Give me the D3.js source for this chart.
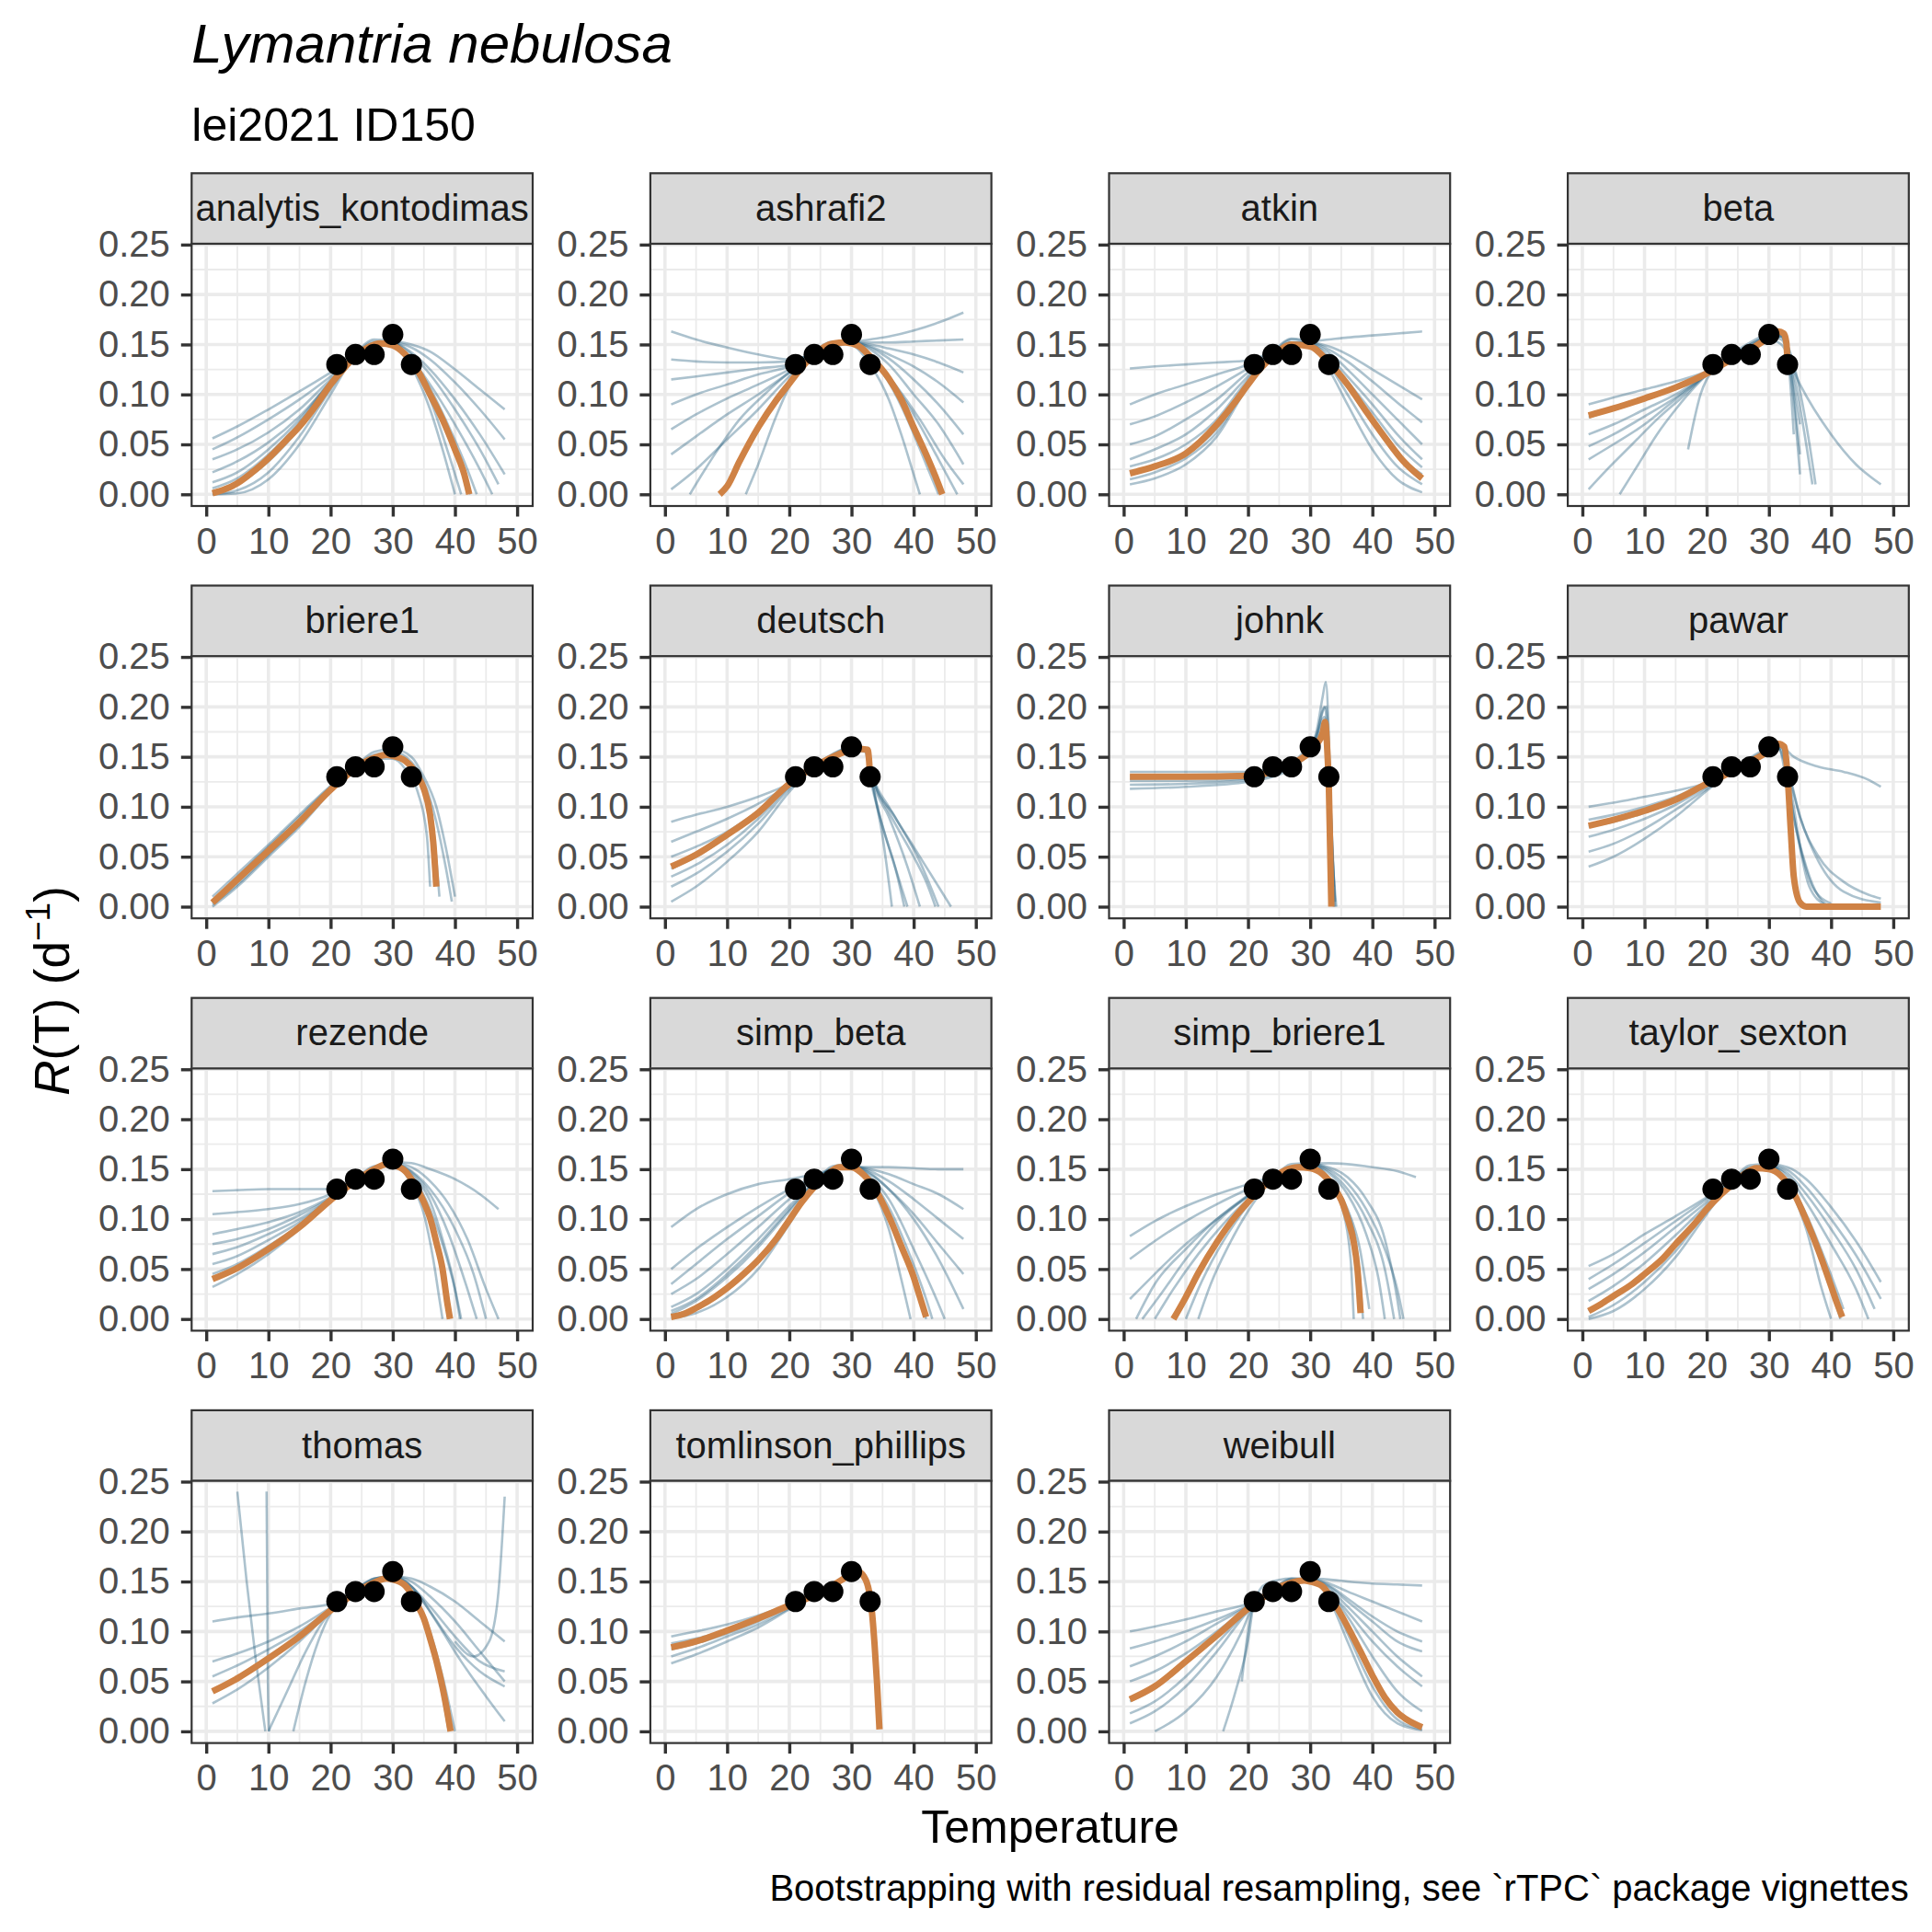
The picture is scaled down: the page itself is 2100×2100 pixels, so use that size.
<!DOCTYPE html>
<html>
<head>
<meta charset="utf-8">
<script src="https://cdn.jsdelivr.net/npm/d3@7"></script>
<style>
body { margin: 0; background: #fff; }
text { font-family: "Liberation Sans", Arial, sans-serif; }
</style>
</head>
<body>
<svg id="chart"></svg>
<script>
// facet names, in the order they are laid out
var models = ["analytis_kontodimas","ashrafi2","atkin","beta","briere1","deutsch","johnk","pawar",
              "rezende","simp_beta","simp_briere1","taylor_sexton","thomas","tomlinson_phillips","weibull"]

// observed development rates
var obsTemp = [21, 24, 27, 30, 33]
var obsRate = [0.13, 0.14, 0.14, 0.16, 0.13]

var xTicks = [0, 10, 20, 30, 40, 50]
var yTicks = [0, 0.05, 0.10, 0.15, 0.20, 0.25]

// fitted curves, [temperature, rate]
var fit_analytis = [[1,0.001],[3,0.005],[5,0.011],[8,0.025],[10,0.036],[13,0.055],[15,0.068],[18,0.092],[20,0.11],[22,0.125],[24,0.138],[26,0.147],[28,0.151],[30,0.149],[32,0.14],[34,0.124],[36,0.1],[38,0.075],[40,0.045],[41.5,0.02],[42.3,0]]
var fit_ashrafi2 = [[8.8,0],[10,0.008],[12,0.033],[15,0.067],[18,0.095],[20,0.111],[22,0.127],[24,0.14],[27,0.151],[29,0.152],[31,0.149],[33,0.138],[36,0.116],[38,0.095],[40,0.067],[42,0.04],[44,0.01],[44.6,0]]
var fit_atkin = [[1,0.021],[5,0.028],[10,0.041],[15,0.07],[18,0.093],[20,0.11],[22,0.126],[24,0.138],[27,0.15],[30,0.148],[33,0.132],[36,0.11],[39,0.083],[42,0.057],[45,0.033],[48,0.016]]
var fit_beta = [[1,0.079],[5,0.086],[10,0.096],[15,0.107],[20,0.121],[22,0.128],[24,0.135],[27,0.145],[30,0.157],[31.5,0.163],[32.4,0.161],[32.8,0.152],[33,0.13]]
var fit_briere1 = [[1,0.004],[5,0.027],[10,0.056],[15,0.085],[20,0.117],[22,0.128],[24,0.139],[27,0.149],[29,0.152],[30,0.151],[32,0.146],[33,0.14],[34,0.131],[35,0.118],[36,0.092],[36.5,0.065],[37,0.02]]
var fit_deutsch = [[1,0.04],[5,0.052],[10,0.072],[15,0.094],[20,0.123],[22,0.132],[24,0.14],[27,0.15],[30,0.157],[31,0.158],[32.6,0.157],[33,0.13]]
var fit_johnk = [[1,0.13],[10,0.13],[20,0.131],[22,0.132],[24,0.136],[26,0.14],[28,0.146],[30,0.155],[31,0.162],[32,0.174],[32.4,0.185],[32.8,0.15],[33,0.12],[33.2,0.06],[33.4,0]]
var fit_pawar = [[1,0.081],[5,0.087],[10,0.096],[15,0.107],[20,0.123],[22,0.129],[24,0.135],[27,0.145],[30,0.156],[31.5,0.163],[32.5,0.16],[33,0.131],[33.5,0.078],[34,0.03],[35,0.004],[36,0],[48,0]]
var fit_rezende = [[1,0.04],[5,0.051],[10,0.07],[15,0.092],[20,0.119],[22,0.129],[24,0.138],[27,0.15],[29,0.155],[30,0.154],[32,0.148],[33,0.14],[35,0.117],[36,0.101],[37,0.077],[38,0.05],[38.8,0.015],[39.2,0]]
var fit_simp_beta = [[1,0.002],[3,0.005],[5,0.011],[8,0.022],[10,0.031],[13,0.047],[15,0.059],[18,0.081],[20,0.099],[22,0.117],[24,0.132],[26,0.144],[28,0.152],[30,0.152],[32,0.144],[34,0.128],[36,0.103],[38,0.073],[40,0.042],[41,0.022],[42,0.002]]
var fit_simp_briere1 = [[8,0],[10,0.022],[12,0.046],[15,0.077],[18,0.103],[20,0.117],[22,0.13],[24,0.141],[26,0.149],[28,0.152],[30,0.151],[32,0.145],[34,0.13],[35,0.119],[36,0.101],[37,0.077],[37.6,0.05],[38.1,0.006]]
var fit_taylor_sexton = [[1,0.008],[3,0.015],[5,0.023],[8,0.035],[10,0.045],[13,0.061],[15,0.075],[18,0.095],[20,0.11],[22,0.123],[24,0.134],[26,0.145],[28,0.151],[30,0.15],[32,0.143],[34,0.126],[36,0.099],[38,0.068],[40,0.033],[41,0.015],[41.8,0.002]]
var fit_thomas = [[1,0.04],[5,0.053],[10,0.073],[15,0.095],[20,0.121],[22,0.13],[24,0.139],[27,0.149],[29,0.153],[30,0.152],[32,0.146],[34,0.126],[35,0.113],[36,0.093],[37,0.071],[38,0.044],[38.8,0.018],[39.3,0]]
var fit_tomlinson = [[1,0.084],[5,0.09],[10,0.101],[15,0.113],[20,0.126],[22,0.131],[24,0.136],[27,0.146],[29,0.154],[30,0.158],[31,0.16],[32,0.155],[32.8,0.141],[33.3,0.119],[33.7,0.088],[34.1,0.049],[34.5,0.002]]
var fit_weibull = [[1,0.032],[5,0.045],[10,0.07],[15,0.096],[20,0.123],[22,0.132],[24,0.141],[27,0.149],[29,0.151],[30,0.15],[32,0.145],[34,0.127],[36,0.105],[38,0.081],[40,0.056],[42,0.034],[44,0.019],[46,0.01],[48,0.004]]

// a sample of the bootstrapped curves, [temperature, rate]
var boot_analytis = [
  [[1,0.056],[5,0.068],[10,0.085],[15,0.103],[20,0.122],[24,0.138],[27,0.148],[30,0.153],[33,0.15],[36,0.143],[40,0.125],[44,0.105],[48,0.085]],
  [[1,0.045],[5,0.057],[10,0.075],[15,0.095],[20,0.118],[24,0.137],[27,0.148],[30,0.152],[33,0.147],[36,0.135],[40,0.112],[44,0.085],[48,0.055]],
  [[1,0.035],[5,0.045],[10,0.062],[15,0.085],[20,0.115],[24,0.136],[27,0.148],[30,0.152],[33,0.142],[36,0.125],[40,0.095],[44,0.06],[48,0.02]],
  [[1,0.012],[5,0.022],[10,0.045],[15,0.075],[20,0.113],[24,0.138],[27,0.15],[30,0.15],[33,0.135],[36,0.11],[40,0.07],[44,0.025],[46,0]],
  [[1,0.006],[5,0.016],[10,0.04],[15,0.072],[20,0.112],[24,0.138],[27,0.151],[30,0.151],[33,0.134],[36,0.106],[39,0.068],[42,0.025],[43.5,0]],
  [[1,0.002],[5,0.01],[10,0.033],[15,0.066],[20,0.108],[24,0.138],[27,0.151],[30,0.15],[33,0.13],[36,0.1],[39,0.06],[42,0.01],[42.5,0]],
  [[1,0],[5,0.001],[10,0.015],[15,0.05],[20,0.1],[24,0.14],[27,0.155],[30,0.153],[33,0.128],[36,0.085],[38,0.045],[40,0]],
  [[1,0],[5,0.004],[10,0.022],[15,0.058],[20,0.105],[24,0.139],[27,0.153],[30,0.151],[33,0.13],[36,0.095],[39,0.04],[41,0]],
  [[1,0.022],[5,0.033],[10,0.052],[15,0.078],[20,0.112],[24,0.137],[27,0.149],[30,0.151],[33,0.14],[36,0.12],[40,0.085],[44,0.045],[47,0.01]]
]
var boot_ashrafi2 = [
  [[1,0.163],[5,0.155],[10,0.147],[15,0.14],[20,0.135],[24,0.14],[27,0.147],[30,0.152],[33,0.155],[36,0.158],[40,0.164],[44,0.172],[48,0.182]],
  [[1,0.135],[5,0.133],[10,0.132],[15,0.132],[20,0.133],[24,0.142],[27,0.15],[30,0.152],[33,0.152],[36,0.152],[40,0.153],[44,0.154],[48,0.155]],
  [[1,0.115],[5,0.118],[10,0.122],[15,0.126],[20,0.13],[24,0.141],[27,0.15],[30,0.152],[33,0.15],[36,0.146],[40,0.14],[44,0.132],[48,0.122]],
  [[1,0.09],[5,0.1],[10,0.11],[15,0.12],[20,0.128],[24,0.14],[27,0.149],[30,0.152],[33,0.148],[36,0.14],[40,0.128],[44,0.112],[48,0.092]],
  [[1,0.065],[5,0.08],[10,0.096],[15,0.11],[20,0.125],[24,0.14],[27,0.15],[30,0.152],[33,0.147],[36,0.136],[40,0.115],[44,0.09],[48,0.06]],
  [[1,0.04],[5,0.058],[10,0.08],[15,0.1],[20,0.122],[24,0.14],[27,0.15],[30,0.152],[33,0.145],[36,0.13],[40,0.1],[44,0.07],[48,0.03]],
  [[1,0.005],[5,0.025],[10,0.055],[15,0.085],[20,0.118],[24,0.14],[27,0.151],[30,0.151],[33,0.14],[36,0.118],[40,0.08],[44,0.035],[47,0]],
  [[9,0],[12,0.03],[15,0.068],[18,0.097],[21,0.12],[24,0.139],[27,0.151],[30,0.152],[33,0.137],[36,0.112],[39,0.075],[42,0.03],[44,0]],
  [[13,0],[15,0.03],[18,0.08],[21,0.12],[24,0.142],[27,0.153],[30,0.15],[33,0.13],[36,0.095],[38,0.06],[40,0.02],[41,0]],
  [[4,0],[8,0.04],[12,0.075],[16,0.1],[20,0.122],[24,0.14],[27,0.15],[30,0.151],[33,0.14],[37,0.11],[41,0.075],[45,0.035],[48,0.01]]
]
var boot_atkin = [
  [[1,0.126],[5,0.128],[10,0.13],[15,0.132],[20,0.134],[24,0.143],[27,0.15],[30,0.153],[33,0.155],[36,0.157],[40,0.159],[44,0.161],[48,0.163]],
  [[1,0.09],[5,0.1],[10,0.11],[15,0.12],[20,0.13],[24,0.142],[27,0.15],[30,0.152],[33,0.148],[36,0.14],[40,0.125],[44,0.11],[48,0.095]],
  [[1,0.07],[5,0.078],[10,0.092],[15,0.108],[20,0.126],[24,0.141],[27,0.15],[30,0.152],[33,0.145],[36,0.133],[40,0.113],[44,0.092],[48,0.072]],
  [[1,0.05],[5,0.058],[10,0.075],[15,0.095],[20,0.122],[24,0.14],[27,0.151],[30,0.151],[33,0.142],[36,0.125],[40,0.1],[44,0.075],[48,0.05]],
  [[1,0.028],[5,0.035],[10,0.05],[15,0.075],[20,0.115],[24,0.14],[27,0.152],[30,0.15],[33,0.135],[36,0.113],[40,0.082],[44,0.05],[48,0.027]],
  [[1,0.022],[5,0.028],[10,0.04],[15,0.066],[20,0.11],[24,0.14],[27,0.152],[30,0.148],[33,0.132],[36,0.108],[40,0.075],[44,0.04],[48,0.02]],
  [[1,0.01],[5,0.016],[10,0.03],[15,0.058],[20,0.108],[24,0.14],[27,0.155],[30,0.15],[33,0.125],[36,0.09],[40,0.045],[44,0.015],[48,0.002]],
  [[1,0.035],[5,0.045],[10,0.06],[15,0.085],[20,0.118],[24,0.141],[27,0.152],[30,0.151],[33,0.138],[36,0.118],[40,0.09],[44,0.06],[48,0.035]],
  [[1,0.015],[5,0.022],[10,0.036],[15,0.062],[20,0.11],[24,0.142],[27,0.156],[30,0.152],[33,0.13],[36,0.1],[40,0.06],[44,0.028],[48,0.01]]
]
var boot_beta = [
  [[1,0.09],[5,0.097],[10,0.105],[15,0.113],[20,0.123],[24,0.135],[27,0.145],[30,0.156],[32,0.16],[33,0.15],[34,0.11],[35,0.07]],
  [[1,0.077],[5,0.085],[10,0.096],[15,0.108],[20,0.122],[24,0.136],[27,0.146],[30,0.157],[32,0.162],[33,0.15],[34,0.1],[35,0.04]],
  [[1,0.06],[5,0.07],[10,0.085],[15,0.1],[20,0.12],[24,0.137],[27,0.148],[30,0.158],[32,0.158],[34,0.13],[36,0.07],[37.5,0.01]],
  [[1,0.048],[5,0.06],[10,0.078],[15,0.097],[20,0.12],[24,0.137],[27,0.148],[30,0.155],[32,0.15],[35,0.11],[40,0.06],[44,0.03],[48,0.01]],
  [[1,0.005],[4,0.025],[8,0.05],[12,0.075],[16,0.097],[20,0.12],[24,0.138],[27,0.15],[30,0.158],[32,0.155],[34,0.12],[36,0.05],[37,0.01]],
  [[6,0],[9,0.03],[12,0.06],[15,0.085],[18,0.107],[21,0.125],[24,0.138],[27,0.15],[30,0.158],[32,0.16],[33,0.14],[34,0.06]],
  [[17,0.045],[18,0.075],[19,0.1],[20,0.115],[21,0.124],[24,0.14],[27,0.152],[30,0.16],[32,0.158],[33.5,0.12],[35,0.02]],
  [[1,0.035],[5,0.05],[10,0.07],[14,0.09],[18,0.11],[21,0.125],[24,0.137],[27,0.148],[30,0.157],[32,0.158],[33.5,0.12]]
]
var boot_briere1 = [
  [[1,0.002],[5,0.022],[10,0.052],[15,0.082],[20,0.117],[24,0.14],[27,0.152],[30,0.155],[33,0.145],[35,0.125],[37,0.085],[38.5,0.04],[39.5,0.005]],
  [[1,0.006],[5,0.03],[10,0.06],[15,0.09],[20,0.12],[24,0.14],[27,0.15],[30,0.15],[33,0.138],[35,0.115],[36,0.09],[36.8,0.03]],
  [[1,0],[5,0.02],[10,0.05],[15,0.08],[20,0.115],[24,0.14],[27,0.155],[30,0.158],[33,0.15],[35,0.13],[37,0.1],[38.5,0.06],[40,0.01]],
  [[1,0.01],[5,0.033],[10,0.062],[15,0.092],[20,0.121],[24,0.14],[27,0.148],[30,0.148],[32,0.138],[34,0.115],[35.5,0.07],[36,0.02]],
  [[1,0.004],[5,0.026],[10,0.056],[15,0.086],[20,0.118],[24,0.139],[27,0.15],[30,0.152],[33,0.142],[35,0.122],[36.5,0.08],[37.5,0.01]]
]
var boot_deutsch = [
  [[1,0.085],[5,0.092],[10,0.1],[15,0.11],[20,0.123],[24,0.138],[27,0.148],[30,0.156],[32.5,0.155],[33.5,0.13],[36,0.1],[40,0.06],[44,0.02],[46,0]],
  [[1,0.065],[5,0.075],[10,0.088],[15,0.103],[20,0.122],[24,0.139],[27,0.15],[30,0.157],[32.5,0.156],[33.5,0.128],[36,0.095],[40,0.05],[42,0.025],[43.5,0]],
  [[1,0.05],[5,0.06],[10,0.075],[15,0.096],[20,0.122],[24,0.139],[27,0.15],[30,0.157],[32.5,0.155],[33.5,0.125],[36,0.09],[39,0.04],[41,0]],
  [[1,0.038],[5,0.05],[10,0.07],[15,0.093],[20,0.122],[24,0.14],[27,0.15],[30,0.157],[32.5,0.158],[33.5,0.12],[35,0.07],[36.5,0]],
  [[1,0.02],[5,0.033],[10,0.055],[15,0.083],[20,0.118],[24,0.14],[27,0.152],[30,0.16],[32.5,0.157],[33.5,0.12],[35,0.08],[37,0.04],[38.5,0]],
  [[1,0.005],[5,0.02],[10,0.045],[15,0.075],[20,0.115],[24,0.14],[27,0.153],[30,0.16],[32,0.158],[33.5,0.115],[36,0.06],[38,0.02],[39,0]],
  [[1,0.03],[5,0.042],[10,0.062],[15,0.088],[20,0.12],[24,0.14],[27,0.151],[30,0.158],[32.5,0.156],[33.5,0.128],[37,0.09],[41,0.045],[44,0]]
]
var boot_johnk = [
  [[1,0.135],[10,0.135],[20,0.135],[24,0.138],[27,0.142],[29,0.15],[31,0.175],[32,0.21],[32.5,0.225],[33,0.17],[33.5,0.05],[33.8,0]],
  [[1,0.126],[10,0.126],[20,0.128],[24,0.133],[27,0.14],[29,0.15],[31,0.168],[32,0.195],[32.6,0.2],[33.2,0.12],[33.8,0.02]],
  [[1,0.118],[10,0.12],[20,0.125],[24,0.13],[27,0.138],[29,0.148],[31,0.163],[32.2,0.18],[32.8,0.17],[33.3,0.1],[34,0]],
  [[1,0.131],[10,0.131],[20,0.132],[24,0.136],[27,0.142],[29,0.152],[31,0.17],[32.3,0.19],[32.9,0.15],[33.5,0.03]],
  [[1,0.128],[10,0.129],[20,0.13],[24,0.135],[27,0.143],[29,0.155],[31,0.172],[32.3,0.2],[33,0.14],[33.6,0.05],[34.2,0]],
  [[1,0.122],[10,0.123],[20,0.127],[24,0.132],[27,0.14],[29,0.15],[31,0.165],[32,0.175],[32.8,0.16],[33.5,0.06],[34,0.005]]
]
var boot_pawar = [
  [[1,0.1],[5,0.104],[10,0.11],[15,0.116],[20,0.124],[24,0.134],[27,0.144],[30,0.155],[32,0.16],[34,0.15],[38,0.14],[42,0.135],[46,0.127],[48,0.12]],
  [[1,0.087],[5,0.092],[10,0.1],[15,0.11],[20,0.124],[24,0.135],[27,0.145],[30,0.156],[32,0.16],[33,0.14],[35,0.09],[38,0.05],[42,0.025],[46,0.012],[48,0.008]],
  [[1,0.07],[5,0.077],[10,0.088],[15,0.102],[20,0.12],[24,0.135],[27,0.146],[30,0.157],[32,0.158],[33,0.13],[34,0.09],[36,0.04],[38,0.01],[40,0]],
  [[1,0.055],[5,0.063],[10,0.078],[15,0.097],[20,0.118],[24,0.135],[27,0.148],[30,0.157],[31.5,0.16],[33,0.12],[35,0.06],[37,0.02],[40,0.003]],
  [[1,0.04],[5,0.05],[10,0.068],[15,0.09],[20,0.116],[24,0.136],[27,0.149],[30,0.158],[31.5,0.158],[33,0.135],[35,0.09],[38,0.045],[42,0.015],[48,0.004]],
  [[1,0.08],[5,0.085],[10,0.094],[15,0.106],[20,0.122],[24,0.135],[27,0.145],[30,0.156],[32,0.16],[33,0.135],[34,0.1],[35,0.06],[36.5,0.02],[39,0.002]]
]
var boot_rezende = [
  [[1,0.128],[5,0.129],[10,0.13],[15,0.13],[20,0.13],[24,0.14],[27,0.15],[30,0.157],[33,0.156],[36,0.15],[40,0.14],[44,0.125],[47,0.11]],
  [[1,0.105],[5,0.107],[10,0.11],[15,0.115],[20,0.125],[24,0.139],[27,0.15],[30,0.156],[33,0.152],[36,0.138],[39,0.115],[42,0.08],[45,0.03],[47,0]],
  [[1,0.085],[5,0.09],[10,0.097],[15,0.107],[20,0.122],[24,0.138],[27,0.15],[30,0.155],[33,0.147],[36,0.125],[39,0.085],[42,0.03],[43.5,0]],
  [[1,0.065],[5,0.072],[10,0.085],[15,0.1],[20,0.12],[24,0.138],[27,0.15],[30,0.155],[33,0.143],[36,0.11],[38,0.075],[40,0.03],[41,0]],
  [[1,0.055],[5,0.063],[10,0.079],[15,0.097],[20,0.12],[24,0.138],[27,0.15],[30,0.155],[33,0.145],[36,0.118],[38,0.08],[40,0.03],[40.8,0]],
  [[1,0.045],[5,0.055],[10,0.073],[15,0.094],[20,0.119],[24,0.138],[27,0.151],[30,0.155],[33,0.14],[35,0.117],[37,0.075],[38.5,0.03],[39,0]],
  [[1,0.032],[5,0.045],[10,0.065],[15,0.09],[20,0.118],[24,0.14],[27,0.153],[30,0.155],[33,0.135],[35,0.105],[36.5,0.06],[37.5,0.02],[38,0]],
  [[1,0.075],[5,0.08],[10,0.09],[15,0.104],[20,0.121],[24,0.138],[27,0.15],[30,0.156],[33,0.148],[36,0.13],[40,0.09],[43,0.045],[45,0]]
]
var boot_simp_beta = [
  [[1,0.092],[5,0.11],[10,0.125],[15,0.135],[20,0.14],[24,0.145],[27,0.15],[30,0.152],[33,0.152],[36,0.152],[40,0.151],[44,0.15],[48,0.15]],
  [[1,0.05],[5,0.07],[10,0.092],[15,0.112],[20,0.13],[24,0.142],[27,0.15],[30,0.153],[33,0.15],[36,0.145],[40,0.135],[44,0.125],[48,0.11]],
  [[1,0.035],[5,0.055],[10,0.08],[15,0.103],[20,0.126],[24,0.141],[27,0.15],[30,0.153],[33,0.148],[36,0.138],[40,0.12],[44,0.1],[48,0.08]],
  [[1,0.025],[5,0.04],[10,0.065],[15,0.092],[20,0.12],[24,0.139],[27,0.15],[30,0.152],[33,0.145],[36,0.13],[40,0.105],[44,0.075],[48,0.045]],
  [[1,0.008],[5,0.02],[10,0.045],[15,0.075],[20,0.11],[24,0.136],[27,0.15],[30,0.153],[33,0.14],[36,0.112],[39,0.07],[42,0.02],[43,0]],
  [[1,0.003],[5,0.012],[10,0.032],[15,0.06],[20,0.1],[24,0.133],[27,0.15],[30,0.153],[33,0.138],[36,0.105],[39,0.06],[41,0.025],[42,0]],
  [[1,0.001],[5,0.006],[10,0.022],[15,0.05],[20,0.095],[24,0.133],[27,0.153],[30,0.155],[33,0.135],[36,0.09],[38,0.04],[39.5,0]],
  [[1,0.005],[5,0.018],[10,0.042],[15,0.072],[20,0.108],[24,0.136],[27,0.151],[30,0.153],[33,0.142],[36,0.12],[40,0.07],[44,0.015],[45,0]],
  [[1,0.012],[5,0.025],[10,0.05],[15,0.08],[20,0.113],[24,0.137],[27,0.15],[30,0.153],[33,0.146],[36,0.13],[40,0.1],[44,0.06],[48,0.01]]
]
var boot_simp_briere1 = [
  [[1,0.083],[5,0.098],[10,0.113],[15,0.125],[20,0.135],[24,0.143],[27,0.15],[30,0.155],[33,0.156],[36,0.155],[40,0.152],[44,0.148],[47,0.142]],
  [[1,0.06],[5,0.078],[10,0.098],[15,0.115],[20,0.13],[24,0.141],[27,0.15],[30,0.155],[33,0.152],[36,0.142],[39,0.12],[42,0.08],[44,0.02],[44.5,0]],
  [[1,0.02],[5,0.045],[10,0.075],[15,0.1],[20,0.123],[24,0.14],[27,0.15],[30,0.154],[33,0.146],[36,0.125],[39,0.085],[41,0.04],[42,0]],
  [[2,0],[5,0.035],[10,0.07],[15,0.1],[20,0.124],[24,0.141],[27,0.151],[30,0.155],[33,0.15],[36,0.136],[39,0.11],[42,0.07],[44,0.03],[45,0]],
  [[5,0],[8,0.03],[12,0.065],[16,0.095],[20,0.12],[24,0.14],[27,0.151],[30,0.153],[33,0.14],[36,0.11],[38,0.07],[39.5,0.01]],
  [[8,0],[10,0.022],[13,0.058],[16,0.088],[20,0.117],[24,0.141],[27,0.151],[30,0.151],[33,0.138],[35.5,0.11],[37,0.075],[38,0.01]],
  [[10,0],[12,0.03],[15,0.067],[18,0.097],[21,0.122],[24,0.14],[27,0.152],[30,0.153],[33,0.14],[35.5,0.115],[37.5,0.07],[38.5,0]],
  [[12,0],[14,0.035],[17,0.075],[20,0.108],[24,0.14],[27,0.155],[30,0.156],[33,0.14],[35,0.115],[36.5,0.06],[37,0]],
  [[3,0],[6,0.025],[10,0.06],[15,0.097],[20,0.123],[24,0.141],[27,0.152],[30,0.155],[33,0.148],[36,0.13],[39,0.1],[42,0.05],[43.5,0]]
]
var boot_taylor_sexton = [
  [[1,0.053],[5,0.065],[10,0.085],[15,0.103],[20,0.122],[24,0.138],[27,0.148],[30,0.155],[33,0.152],[36,0.14],[40,0.112],[44,0.078],[48,0.037]],
  [[1,0.04],[5,0.055],[10,0.076],[15,0.098],[20,0.12],[24,0.137],[27,0.148],[30,0.154],[33,0.149],[36,0.132],[40,0.1],[44,0.064],[48,0.02]],
  [[1,0.03],[5,0.045],[10,0.067],[15,0.092],[20,0.117],[24,0.136],[27,0.148],[30,0.153],[33,0.146],[36,0.125],[40,0.09],[44,0.05],[47,0.01]],
  [[1,0.008],[5,0.022],[10,0.045],[15,0.075],[20,0.11],[24,0.135],[27,0.15],[30,0.151],[33,0.135],[36,0.1],[39,0.05],[41.5,0]],
  [[1,0],[5,0.008],[10,0.03],[15,0.062],[20,0.105],[24,0.137],[27,0.154],[30,0.155],[33,0.135],[36,0.09],[38.5,0.03],[40,0]],
  [[1,0.002],[5,0.014],[10,0.037],[15,0.068],[20,0.108],[24,0.136],[27,0.152],[30,0.153],[33,0.138],[36,0.105],[39,0.06],[42,0.01]],
  [[1,0.018],[5,0.033],[10,0.056],[15,0.084],[20,0.114],[24,0.136],[27,0.149],[30,0.153],[33,0.143],[36,0.117],[40,0.075],[44,0.03],[46,0]]
]
var boot_thomas = [
  [[1,0.11],[5,0.114],[10,0.118],[15,0.123],[20,0.128],[24,0.14],[27,0.15],[30,0.155],[33,0.153],[36,0.145],[40,0.13],[44,0.11],[48,0.09]],
  [[1,0.07],[5,0.078],[10,0.09],[15,0.105],[20,0.124],[24,0.139],[27,0.15],[30,0.155],[33,0.15],[36,0.135],[40,0.11],[44,0.08],[48,0.05]],
  [[1,0.055],[5,0.066],[10,0.082],[15,0.1],[20,0.122],[24,0.139],[27,0.15],[30,0.154],[33,0.145],[36,0.125],[40,0.095],[44,0.07],[48,0.06]],
  [[1,0.04],[5,0.053],[10,0.073],[15,0.095],[20,0.121],[24,0.139],[27,0.15],[30,0.153],[33,0.137],[35,0.113],[37,0.07],[39,0]],
  [[1,0.028],[5,0.042],[10,0.064],[15,0.09],[20,0.12],[24,0.14],[27,0.153],[30,0.155],[33,0.14],[36,0.1],[38,0.055],[40,0]],
  [[10,0],[13,0.04],[16,0.08],[19,0.112],[21,0.127],[24,0.142],[27,0.153],[30,0.155],[33,0.145],[36,0.12],[40,0.085],[44,0.06],[48,0.045]],
  [[14,0],[16,0.05],[18,0.09],[20,0.118],[22,0.133],[25,0.146],[28,0.154],[31,0.153],[34,0.138],[37,0.11],[41,0.07],[45,0.035],[48,0.01]],
  [[5,0.24],[6.5,0.15],[8,0.07],[9.5,0]],
  [[9.7,0.24],[9.8,0.15],[9.9,0.06],[10.1,0]],
  [[40,0.09],[43,0.075],[45.5,0.09],[47,0.14],[48,0.235]]
]
var boot_tomlinson = [
  [[1,0.095],[5,0.1],[10,0.107],[15,0.116],[20,0.127],[24,0.136],[27,0.146],[30,0.157],[31.5,0.158],[33,0.13],[34.3,0.03]],
  [[1,0.075],[5,0.083],[10,0.095],[15,0.107],[20,0.123],[24,0.136],[27,0.147],[30,0.158],[31.5,0.16],[33,0.13],[34.3,0.03]],
  [[1,0.068],[5,0.077],[10,0.09],[15,0.104],[20,0.122],[24,0.136],[27,0.147],[30,0.158],[31.5,0.159],[33,0.132],[34.3,0.04]],
  [[1,0.088],[5,0.093],[10,0.101],[15,0.112],[20,0.125],[24,0.136],[27,0.146],[30,0.157],[31.5,0.159],[33,0.13],[34.4,0.02]],
  [[1,0.082],[5,0.088],[10,0.098],[15,0.11],[20,0.125],[24,0.136],[27,0.146],[30,0.157],[31.5,0.159],[33,0.13],[34.4,0.01]]
]
var boot_weibull = [
  [[1,0.1],[5,0.105],[10,0.112],[15,0.12],[20,0.128],[24,0.14],[27,0.15],[30,0.153],[33,0.152],[36,0.15],[40,0.148],[44,0.147],[48,0.146]],
  [[1,0.083],[5,0.09],[10,0.1],[15,0.112],[20,0.126],[24,0.14],[27,0.15],[30,0.153],[33,0.148],[36,0.14],[40,0.13],[44,0.12],[48,0.11]],
  [[1,0.065],[5,0.075],[10,0.09],[15,0.108],[20,0.125],[24,0.14],[27,0.15],[30,0.152],[33,0.146],[36,0.133],[40,0.115],[44,0.1],[48,0.09]],
  [[1,0.05],[5,0.06],[10,0.078],[15,0.1],[20,0.124],[24,0.14],[27,0.15],[30,0.152],[33,0.143],[36,0.125],[40,0.1],[44,0.075],[48,0.055]],
  [[1,0.03],[5,0.043],[10,0.068],[15,0.095],[20,0.122],[24,0.141],[27,0.15],[30,0.151],[33,0.137],[36,0.105],[40,0.055],[44,0.02],[48,0.004]],
  [[1,0.018],[5,0.03],[10,0.055],[15,0.088],[20,0.121],[24,0.141],[27,0.151],[30,0.152],[33,0.137],[36,0.098],[40,0.045],[44,0.012],[48,0.002]],
  [[1,0.008],[5,0.02],[10,0.045],[15,0.08],[20,0.12],[24,0.142],[27,0.153],[30,0.152],[33,0.133],[36,0.09],[40,0.035],[44,0.008],[48,0.001]],
  [[5,0],[10,0.02],[15,0.055],[19,0.1],[21,0.128],[24,0.142],[27,0.152],[30,0.152],[33,0.14],[36,0.115],[40,0.075],[44,0.04],[48,0.02]],
  [[16,0],[18,0.04],[20,0.09],[21,0.13],[23,0.148],[27,0.153],[30,0.152],[33,0.14],[36,0.12],[40,0.09],[44,0.065],[48,0.045]],
  [[19,0.05],[20,0.1],[21,0.13],[24,0.141],[27,0.15],[30,0.152],[33,0.145],[36,0.13],[40,0.11],[44,0.09],[48,0.08]]
]

// lookup tables built from the arrays above
var fits = {
  analytis_kontodimas: fit_analytis, ashrafi2: fit_ashrafi2, atkin: fit_atkin, beta: fit_beta,
  briere1: fit_briere1, deutsch: fit_deutsch, johnk: fit_johnk, pawar: fit_pawar,
  rezende: fit_rezende, simp_beta: fit_simp_beta, simp_briere1: fit_simp_briere1,
  taylor_sexton: fit_taylor_sexton, thomas: fit_thomas, tomlinson_phillips: fit_tomlinson, weibull: fit_weibull
}
var boots = {
  analytis_kontodimas: boot_analytis, ashrafi2: boot_ashrafi2, atkin: boot_atkin, beta: boot_beta,
  briere1: boot_briere1, deutsch: boot_deutsch, johnk: boot_johnk, pawar: boot_pawar,
  rezende: boot_rezende, simp_beta: boot_simp_beta, simp_briere1: boot_simp_briere1,
  taylor_sexton: boot_taylor_sexton, thomas: boot_thomas, tomlinson_phillips: boot_tomlinson, weibull: boot_weibull
}

var screen = {width:2100, height:2100}
var panel = {width:370.7, height:285, strip:76.7, left:208.3, top:188.3, colStep:498.6, rowStep:448.2}

var svg = d3.select("#chart")
  .attr("width", screen.width)
  .attr("height", screen.height)

svg.append("rect")
  .attr("width", screen.width)
  .attr("height", screen.height)
  .attr("fill", "white")

var xScale = d3.scaleLinear().domain([-2.35, 52.5]).range([0, panel.width])
var yScale = d3.scaleLinear().domain([-0.0117, 0.2508]).range([panel.height, 0])

var lineGenerator = d3.line()
  .x(function(d){return xScale(d[0])})
  .y(function(d){return yScale(d[1])})
  .curve(d3.curveMonotoneX)

var defs = svg.append("defs")

var drawPanel = function(name, i)
{
  var col = i % 4, row = Math.floor(i / 4)
  var x0 = panel.left + col * panel.colStep
  var stripTop = panel.top + row * panel.rowStep
  var y0 = stripTop + panel.strip

  // strip
  svg.append("rect")
    .attr("x", x0).attr("y", stripTop)
    .attr("width", panel.width).attr("height", panel.strip)
    .attr("fill", "#d9d9d9").attr("stroke", "#333333").attr("stroke-width", 2.2)
  svg.append("text")
    .attr("x", x0 + panel.width / 2).attr("y", stripTop + 51.7)
    .attr("text-anchor", "middle")
    .attr("font-size", 40).attr("fill", "#1a1a1a")
    .text(name)

  var g = svg.append("g").attr("transform", "translate(" + x0 + "," + y0 + ")")

  g.append("rect").attr("width", panel.width).attr("height", panel.height).attr("fill", "white")

  // grid
  var xMinor = [5, 15, 25, 35, 45]
  var yMinor = [0.025, 0.075, 0.125, 0.175, 0.225]
  g.selectAll(".xminor").data(xMinor).enter().append("line")
    .attr("x1", xScale).attr("x2", xScale).attr("y1", 0).attr("y2", panel.height)
    .attr("stroke", "#ebebeb").attr("stroke-width", 1.8)
  g.selectAll(".yminor").data(yMinor).enter().append("line")
    .attr("y1", yScale).attr("y2", yScale).attr("x1", 0).attr("x2", panel.width)
    .attr("stroke", "#ebebeb").attr("stroke-width", 1.8)
  g.selectAll(".xmajor").data(xTicks).enter().append("line")
    .attr("x1", xScale).attr("x2", xScale).attr("y1", 0).attr("y2", panel.height)
    .attr("stroke", "#ebebeb").attr("stroke-width", 3.6)
  g.selectAll(".ymajor").data(yTicks).enter().append("line")
    .attr("y1", yScale).attr("y2", yScale).attr("x1", 0).attr("x2", panel.width)
    .attr("stroke", "#ebebeb").attr("stroke-width", 3.6)

  defs.append("clipPath").attr("id", "clip" + i)
    .append("rect").attr("width", panel.width).attr("height", panel.height)

  var data = g.append("g").attr("clip-path", "url(#clip" + i + ")")

  data.selectAll(".boot").data(boots[name]).enter().append("path")
    .attr("d", lineGenerator)
    .attr("fill", "none")
    .attr("stroke", "#245f7e")
    .attr("stroke-opacity", 0.38)
    .attr("stroke-width", 2.6)

  data.append("path")
    .datum(fits[name])
    .attr("d", lineGenerator)
    .attr("fill", "none")
    .attr("stroke", "#cf8245")
    .attr("stroke-width", 7)
    .attr("stroke-linejoin", "round")

  data.selectAll("circle").data(obsTemp).enter().append("circle")
    .attr("cx", function(t){return xScale(t)})
    .attr("cy", function(t, k){return yScale(obsRate[k])})
    .attr("r", 11.5)
    .attr("fill", "black")

  g.append("rect").attr("width", panel.width).attr("height", panel.height)
    .attr("fill", "none").attr("stroke", "#333333").attr("stroke-width", 2.2)

  // axes
  var xAxis = d3.axisBottom(xScale).tickValues(xTicks).tickSize(11.5).tickPadding(11.8)
  var yAxis = d3.axisLeft(yScale).tickValues(yTicks).tickSize(11.5).tickPadding(12).tickFormat(d3.format(".2f"))

  var xa = g.append("g").attr("transform", "translate(0," + panel.height + ")").call(xAxis)
  var ya = g.append("g").call(yAxis)
  ;[xa, ya].forEach(function(a){
    a.select(".domain").remove()
    a.selectAll(".tick line").attr("stroke", "#333333").attr("stroke-width", 3.4)
    a.selectAll(".tick text").attr("font-size", 40).attr("fill", "#4d4d4d")
      .attr("font-family", "'Liberation Sans', Arial, sans-serif")
  })
}

models.forEach(drawPanel)

// titles
svg.append("text")
  .attr("x", 208.3).attr("y", 68)
  .attr("font-size", 60).attr("font-style", "italic").attr("fill", "black")
  .text("Lymantria nebulosa")

svg.append("text")
  .attr("x", 208.3).attr("y", 153)
  .attr("font-size", 50).attr("fill", "black")
  .text("lei2021 ID150")

var right = panel.left + 3 * panel.colStep + panel.width

svg.append("text")
  .attr("x", (panel.left + right) / 2).attr("y", 2003)
  .attr("text-anchor", "middle")
  .attr("font-size", 50).attr("fill", "black")
  .text("Temperature")

var yt = svg.append("text")
  .attr("transform", "translate(75,1077) rotate(-90)")
  .attr("text-anchor", "middle")
  .attr("font-size", 53).attr("fill", "black")
yt.append("tspan").attr("font-style", "italic").text("R")
yt.append("tspan").text("(T) (d")
yt.append("tspan").attr("font-size", 37).attr("dy", -21).text("\u22121")
yt.append("tspan").attr("dy", 21).text(")")

svg.append("text")
  .attr("x", right).attr("y", 2066)
  .attr("text-anchor", "end")
  .attr("font-size", 40).attr("fill", "black")
  .text("Bootstrapping with residual resampling, see `rTPC` package vignettes")
</script>
</body>
</html>
